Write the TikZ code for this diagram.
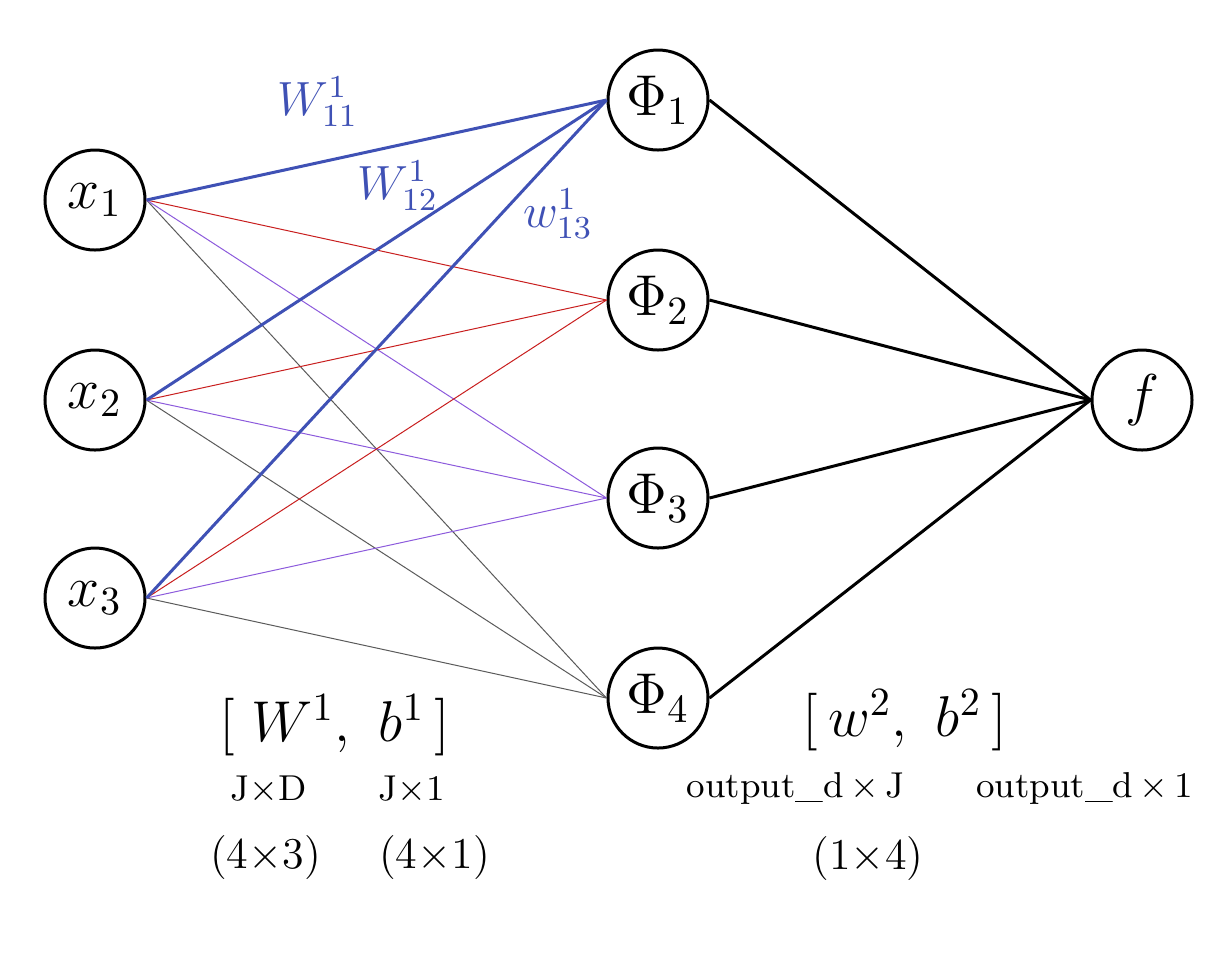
\documentclass[tikz,border=0pt]{standalone}
\usepackage{amsmath}
\definecolor{wblue}{RGB}{63,81,181}
\definecolor{wred}{RGB}{200,30,30}
\definecolor{wpurple}{RGB}{140,90,220}
\definecolor{wgray}{RGB}{90,90,90}
\begin{document}
\begin{tikzpicture}[x=0.25pt,y=-0.25pt,
  neuron/.style={circle,draw=black,line width=0.75pt,minimum size=25pt,inner sep=0pt,font=\Large},
  bluew/.style={draw=wblue,line width=0.75pt},
  redw/.style={draw=wred,line width=0.25pt},
  purw/.style={draw=wpurple,line width=0.25pt},
  grayw/.style={draw=wgray,line width=0.25pt},
  outw/.style={draw=black,line width=0.75pt},
  wlabel/.style={text=wblue,font=\large,inner sep=0pt},
  note/.style={font=\fontsize{9}{11}\selectfont},
  dim/.style={font=\fontsize{11}{13}\selectfont}]
\useasboundingbox (0,0) rectangle (1230,968);
\node[neuron] (x1) at (95,200) {$x_1$};
\node[neuron] (x2) at (95,400) {$x_2$};
\node[neuron] (x3) at (95,598) {$x_3$};
\node[neuron] (p1) at (658,100) {$\Phi_1$};
\node[neuron] (p2) at (658,300) {$\Phi_2$};
\node[neuron] (p3) at (658,498) {$\Phi_3$};
\node[neuron] (p4) at (658,698) {$\Phi_4$};
\node[neuron] (f) at (1142,400) {$f$};
\foreach \i in {1,2,3}{
  \draw[grayw] (x\i.east) -- (p4.west);
  \draw[purw] (x\i.east) -- (p3.west);
  \draw[redw] (x\i.east) -- (p2.west);
}
\foreach \i in {1,2,3}{
  \draw[bluew] (x\i.east) -- (p1.west);
}
\foreach \j in {1,2,3,4}{
  \draw[outw] (p\j.east) -- (f.west);
}
\node[wlabel] (l11) at (318,102) {$W^1_{11}$};
\node[wlabel] (l12) at (398,186) {$W^1_{12}$};
\node[wlabel] (l13) at (558,214) {$w^1_{13}$};
\node[font=\Large] (wb1) at (335,725) {$[\;W^1,\ b^1\,]$};
\node[note] (d1) at (338,790) {J$\times$D\qquad J$\times$1};
\node[dim] (s1) at (350,857) {(4$\times$3)\quad\ (4$\times$1)};
\node[font=\Large] (wb2) at (905,720) {$[\,w^2,\ b^2\,]$};
\node[note] (d2) at (940,788) {output\_d$\,\times\,$J\qquad output\_d$\,\times\,$1};
\node[dim] (s2) at (868,858) {(1$\times$4)};
\end{tikzpicture}
\end{document}
